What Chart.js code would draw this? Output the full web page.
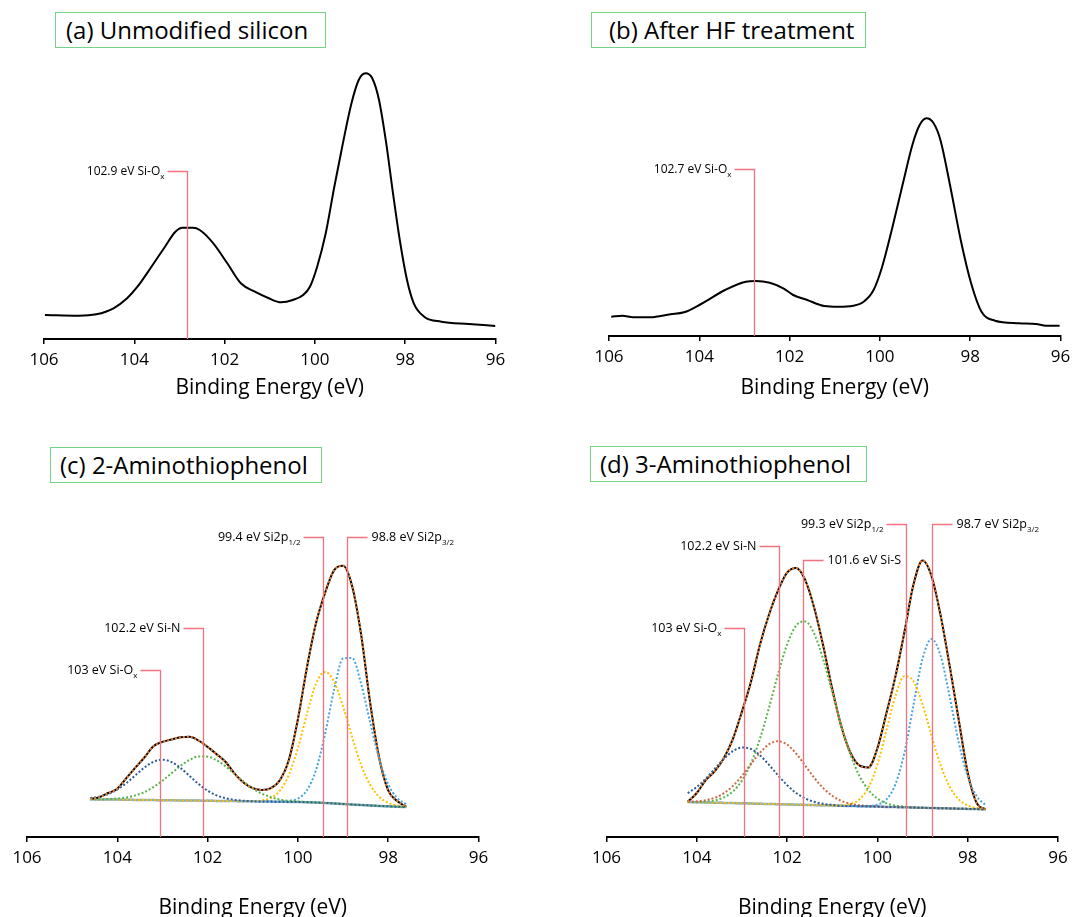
<!DOCTYPE html>
<html>
<head>
<meta charset="utf-8">
<script src="https://cdn.jsdelivr.net/npm/chart.js@4.4.1/dist/chart.umd.min.js"></script>
<style>
  body { margin: 0; width: 1072px; height: 917px; overflow: hidden; position: relative; background: #fff; font-family: "Open Sans", sans-serif; }
  canvas { position: absolute; }
  .tag { position: absolute; border: 1.5px solid #74d486; font-size: 24px; line-height: 34px; height: 34px; color: #000; white-space: nowrap; box-sizing: content-box; z-index: 2; }
</style>
</head>
<body>
<div class="tag" style="left:55px;top:12px;width:259px;padding-left:10px">(a) Unmodified silicon</div>
<div class="tag" style="left:591px;top:12px;width:256px;padding-left:17px">(b) After HF treatment</div>
<div class="tag" style="left:50px;top:447px;width:261px;padding-left:9px">(c) 2-Aminothiophenol</div>
<div class="tag" style="left:590px;top:446px;width:266px;padding-left:9px">(d) 3-Aminothiophenol</div>

<canvas id="chartA" width="536" height="355" style="left:0;top:55px"></canvas>
<canvas id="chartB" width="545" height="355" style="left:540px;top:55px"></canvas>
<canvas id="chartC" width="536" height="440" style="left:0;top:495px"></canvas>
<canvas id="chartD" width="545" height="440" style="left:540px;top:495px"></canvas>

<script>
// x ticks (binding energy, eV)
const tickMin = 96;
const tickMax = 106;
const tickStep = 2;
const axisTitle = "Binding Energy (eV)";

// (a) unmodified silicon - measured spectrum
const aEV = [105.98, 105.23, 104.84, 104.46, 104.16, 103.93, 103.62, 103.32, 103.09, 102.93, 102.7, 102.55, 102.25, 101.94, 101.64, 101.33, 101.02, 100.75, 100.49, 100.26, 100.11, 99.95, 99.76, 99.57, 99.38, 99.19, 99.03, 98.88, 98.73, 98.58, 98.42, 98.27, 98.12, 97.96, 97.81, 97.58, 97.2, 96.59, 96.0];
const aCounts = [24, 23.3, 24.7, 30.7, 40.7, 52.3, 72.3, 92.3, 107.3, 111.3, 111.3, 109, 95.7, 75.7, 55.7, 47.3, 40.7, 36.7, 39, 44, 52.3, 72.3, 105.7, 152.3, 195.7, 235.7, 259, 265.7, 260.7, 239, 195.7, 145.7, 99, 59, 35.7, 22.3, 17.3, 15, 13];

// (b) after HF treatment
const bEV = [105.95, 105.7, 105.47, 105.09, 104.64, 104.34, 103.96, 103.43, 102.97, 102.75, 102.44, 102.14, 101.92, 101.61, 101.23, 100.93, 100.59, 100.36, 100.14, 99.95, 99.72, 99.49, 99.27, 99.12, 98.97, 98.81, 98.66, 98.44, 98.21, 97.98, 97.75, 97.45, 96.92, 96.54, 96.32, 96.02];
const bCounts = [19.3, 20.3, 18.7, 18.7, 21.7, 23.7, 32, 46, 54.3, 55, 53.3, 47.7, 41, 36, 30, 29.3, 30.3, 34.3, 46, 69.3, 109.3, 152.7, 192.7, 211, 217.7, 212.7, 196, 149.3, 96, 52.7, 24.3, 15.3, 12.7, 12, 10.3, 10.3];

// (c) 2-aminothiophenol - measured envelope, fitted components, background
const cEV = [104.6, 104.4, 104.2, 104.0, 103.8, 103.6, 103.4, 103.2, 103.0, 102.8, 102.6, 102.4, 102.2, 102.0, 101.8, 101.6, 101.4, 101.2, 101.0, 100.8, 100.6, 100.4, 100.2, 100.0, 99.8, 99.6, 99.4, 99.2, 99.0, 98.8, 98.6, 98.4, 98.2, 98.0, 97.8, 97.6];
const cEnvelope = [38.0, 39.8, 44.0, 48.3, 58.8, 69.3, 79.5, 90.8, 95.1, 97.5, 99.7, 100.2, 96.5, 90.1, 82.8, 75.0, 63.3, 54.2, 48.9, 47.0, 48.8, 56.8, 77.2, 117.8, 169.5, 213.7, 243.9, 266.6, 271.2, 251.0, 202.5, 134.3, 79.2, 46.6, 35.9, 30.2];
const cSiOx = [38.9, 40.3, 43.0, 47.5, 53.9, 61.7, 69.4, 75.2, 77.3, 75.0, 69.0, 61.1, 53.0, 46.3, 41.6, 38.7, 37.1, 36.2, 35.7, 35.5, 35.4, 35.2, 35.1, 35.0, 34.8, 34.5, 34.1, 33.6, 33.0, 32.5, 32.0, 31.6, 31.1, 30.7, 30.3, 30.0];
const cSiN = [37.8, 37.8, 38.0, 38.5, 39.6, 41.6, 44.9, 49.8, 56.3, 63.7, 71.1, 77.1, 80.5, 80.3, 76.7, 70.5, 62.9, 55.3, 48.6, 43.4, 39.9, 37.5, 36.2, 35.5, 35.0, 34.5, 34.1, 33.6, 33.0, 32.5, 32.0, 31.6, 31.1, 30.7, 30.3, 30.0];
const cSi2p12 = [37.7, 37.6, 37.5, 37.4, 37.3, 37.1, 37.0, 36.9, 36.8, 36.7, 36.6, 36.5, 36.4, 36.2, 36.1, 36.0, 35.9, 35.8, 35.9, 36.5, 39.1, 46.3, 62.1, 88.8, 123.1, 153.2, 165.1, 155.3, 130.5, 99.9, 72.1, 52.2, 40.2, 34.2, 31.5, 30.3];
const cSi2p32 = [37.7, 37.6, 37.5, 37.4, 37.3, 37.1, 37.0, 36.9, 36.8, 36.7, 36.6, 36.5, 36.4, 36.2, 36.1, 36.0, 35.9, 35.8, 35.7, 35.5, 35.4, 35.3, 35.9, 38.4, 46.7, 66.9, 102.8, 146.9, 178.4, 179.0, 153.2, 114.7, 78.2, 52.8, 38.9, 32.8];
const cBackground = [37.7, 37.6, 37.5, 37.4, 37.3, 37.1, 37.0, 36.9, 36.8, 36.7, 36.6, 36.5, 36.4, 36.2, 36.1, 36.0, 35.9, 35.8, 35.7, 35.5, 35.4, 35.2, 35.1, 35.0, 34.8, 34.5, 34.1, 33.6, 33.0, 32.5, 32.0, 31.6, 31.1, 30.7, 30.3, 30.0];

// (d) 3-aminothiophenol
const dEV = [104.2, 104.0, 103.8, 103.6, 103.4, 103.2, 103.0, 102.8, 102.6, 102.4, 102.2, 102.0, 101.8, 101.6, 101.4, 101.2, 101.0, 100.8, 100.6, 100.4, 100.2, 100.0, 99.8, 99.6, 99.4, 99.2, 99.0, 98.8, 98.6, 98.4, 98.2, 98.0, 97.8, 97.6];
const dEnvelope = [35.2, 44.0, 57.0, 65.8, 79.0, 98.2, 125.4, 155.3, 192.6, 222.5, 246.7, 264.4, 269.1, 257.2, 229.3, 191.3, 148.0, 110.7, 84.5, 71.6, 69.6, 88.8, 123.9, 160.7, 205.3, 252.7, 276.6, 260.8, 221.6, 171.3, 117.5, 64.4, 33.9, 27.7];
const dSiOx = [43.8, 50.0, 58.4, 68.3, 78.2, 85.9, 89.5, 88.0, 81.6, 72.1, 61.6, 51.9, 44.0, 38.6, 35.2, 33.2, 32.1, 31.2, 31.0, 30.8, 30.6, 30.4, 30.1, 29.9, 29.7, 29.5, 29.2, 29.0, 28.8, 28.6, 28.3, 28.1, 27.9, 27.7];
const dSiN = [35.4, 35.7, 36.9, 39.2, 43.8, 51.1, 61.1, 72.9, 84.4, 92.8, 95.8, 92.4, 83.5, 71.5, 59.3, 48.9, 41.2, 36.1, 33.3, 31.7, 31.0, 30.4, 30.1, 29.9, 29.7, 29.5, 29.2, 29.0, 28.8, 28.6, 28.3, 28.1, 27.9, 27.7];
const dSiS = [35.1, 35.1, 35.5, 36.6, 39.6, 45.6, 56.4, 73.8, 98.5, 129.4, 162.9, 192.5, 211.5, 215.6, 203.2, 177.6, 144.8, 111.4, 82.9, 61.3, 47.1, 38.5, 33.7, 31.4, 30.3, 29.6, 29.2, 29.0, 28.8, 28.6, 28.3, 28.1, 27.9, 27.7];
const dSi2p12 = [35.0, 34.8, 34.6, 34.3, 34.1, 33.9, 33.7, 33.5, 33.2, 33.0, 32.8, 32.6, 32.3, 32.1, 31.9, 31.7, 31.5, 31.6, 32.9, 37.5, 49.3, 72.5, 106.5, 141.4, 160.8, 155.7, 132.5, 101.1, 71.7, 50.3, 37.7, 31.5, 29.0, 28.0];
const dSi2p32 = [35.0, 34.8, 34.6, 34.3, 34.1, 33.9, 33.7, 33.5, 33.2, 33.0, 32.8, 32.6, 32.3, 32.1, 31.9, 31.7, 31.5, 31.2, 31.0, 30.8, 31.0, 32.3, 37.5, 52.8, 84.6, 132.1, 178.3, 198.0, 181.2, 140.3, 94.9, 60.4, 40.7, 31.8];
const dBackground = [35.0, 34.8, 34.6, 34.3, 34.1, 33.9, 33.7, 33.5, 33.2, 33.0, 32.8, 32.6, 32.3, 32.1, 31.9, 31.7, 31.5, 31.2, 31.0, 30.8, 30.6, 30.4, 30.1, 29.9, 29.7, 29.5, 29.2, 29.0, 28.8, 28.6, 28.3, 28.1, 27.9, 27.7];

// peak markers: position (eV), top of marker (counts), label, subscript, side of label
const aMarkEV = [102.84];
const aMarkTop = [168];
const aMarkText = ["102.9 eV Si-O"];
const aMarkSub = ["x"];
const aMarkSide = ["left"];

const bMarkEV = [102.78];
const bMarkTop = [167];
const bMarkText = ["102.7 eV Si-O"];
const bMarkSub = ["x"];
const bMarkSide = ["left"];

const cMarkEV = [103.06, 102.1, 99.44, 98.91];
const cMarkTop = [167, 209, 300, 300];
const cMarkText = ["103 eV Si-O", "102.2 eV Si-N", "99.4 eV Si2p", "98.8 eV Si2p"];
const cMarkSub = ["x", "", "1/2", "3/2"];
const cMarkSide = ["left", "left", "left", "right"];

const dMarkEV = [102.95, 102.19, 101.64, 99.37, 98.8];
const dMarkTop = [209, 291, 277, 313, 313];
const dMarkText = ["103 eV Si-O", "102.2 eV Si-N", "101.6 eV Si-S", "99.3 eV Si2p", "98.7 eV Si2p"];
const dMarkSub = ["x", "", "", "1/2", "3/2"];
const dMarkSide = ["left", "left", "right", "left", "right"];

Chart.defaults.font.family = "'Open Sans', sans-serif";
Chart.defaults.color = "#000";

function pts(xs, ys) {
    return xs.map((x, i) => ({ x: x, y: ys[i] }));
}

function marks(ev, top, text, sub, side) {
    return ev.map((v, i) => ({ ev: v, top: top[i], text: text[i], sub: sub[i], side: side[i] }));
}

// red drop lines with labels
const peakMarks = {
    id: "peakMarks",
    afterDatasetsDraw(chart, args, opts) {
        const ctx = chart.ctx;
        const xs = chart.scales.x;
        const ys = chart.scales.y;
        const bottom = chart.chartArea.bottom;
        ctx.save();
        opts.items.forEach((m) => {
            const px = Math.round(xs.getPixelForValue(m.ev)) + 0.5;
            const py = Math.round(ys.getPixelForValue(m.top)) + 0.5;
            const arm = 20;
            const endX = m.side === "left" ? px - arm : px + arm;
            ctx.strokeStyle = "#f2737f";
            ctx.lineWidth = 1.3;
            ctx.beginPath();
            ctx.moveTo(endX, py);
            ctx.lineTo(px, py);
            ctx.lineTo(px, bottom);
            ctx.stroke();

            ctx.fillStyle = "#000";
            ctx.textBaseline = "middle";
            ctx.textAlign = "left";
            ctx.font = opts.size + "px 'Open Sans'";
            const mainW = ctx.measureText(m.text).width;
            ctx.font = "8px 'Open Sans'";
            const subW = m.sub ? ctx.measureText(m.sub).width : 0;
            const startX = m.side === "left" ? endX - 3 - subW - mainW : endX + 4;
            ctx.font = opts.size + "px 'Open Sans'";
            ctx.fillText(m.text, startX, py);
            if (m.sub) {
                ctx.font = "8px 'Open Sans'";
                ctx.fillText(m.sub, startX + mainW, py + 5);
            }
        });
        ctx.restore();
    },
};

function line(data, color, dotted, width) {
    return {
        data: data,
        borderColor: color,
        borderWidth: width || 2,
        borderDash: dotted ? [2, 2] : [],
        pointRadius: 0,
        fill: false,
        cubicInterpolationMode: "monotone",
    };
}

// geometry of one panel in page pixels
function makePanel(id, g, datasets, items, labelSize) {
    const yMax = g.axisY - g.top;
    const axisH = g.h - yMax;
    const titleLh = 21 * 1.2;
    new Chart(document.getElementById(id), {
        type: "line",
        data: { datasets: datasets },
        options: {
            responsive: false,
            animation: false,
            devicePixelRatio: 1,
            layout: { padding: { left: g.x106 - g.left, right: g.left + g.w - g.x96, top: 0, bottom: 0 } },
            plugins: {
                legend: { display: false },
                tooltip: { enabled: false },
                peakMarks: { items: items, size: labelSize },
            },
            scales: {
                x: {
                    type: "linear",
                    min: tickMin,
                    max: tickMax,
                    reverse: true,
                    ticks: { stepSize: tickStep, font: { size: 17 }, padding: 6, maxRotation: 0 },
                    grid: { drawOnChartArea: false, drawTicks: true, tickLength: 5, color: "#000", lineWidth: 1.5 },
                    border: { display: true, color: "#000", width: 2 },
                    title: {
                        display: true,
                        text: axisTitle,
                        font: { size: 21 },
                        padding: { top: 0, bottom: g.h - (g.titleY - g.top) - titleLh / 2 },
                    },
                    afterFit: (s) => { s.height = axisH; },
                },
                y: { display: false, min: 0, max: yMax },
            },
        },
        plugins: [peakMarks],
    });
}

makePanel("chartA", { left: 0, top: 55, w: 536, h: 355, x106: 44, x96: 495.5, axisY: 339, titleY: 388 },
    [line(pts(aEV, aCounts), "#000", false, 2)],
    marks(aMarkEV, aMarkTop, aMarkText, aMarkSub, aMarkSide), 12);

makePanel("chartB", { left: 540, top: 55, w: 545, h: 355, x106: 609, x96: 1060.5, axisY: 336, titleY: 388 },
    [line(pts(bEV, bCounts), "#000", false, 2)],
    marks(bMarkEV, bMarkTop, bMarkText, bMarkSub, bMarkSide), 12);

// first dataset is drawn on top
makePanel("chartC", { left: 0, top: 495, w: 536, h: 440, x106: 27, x96: 478.5, axisY: 837, titleY: 908 },
    [
        line(pts(cEV, cEnvelope), "#ed7d31", true),
        line(pts(cEV, cSiOx), "#2e5c97", true),
        line(pts(cEV, cSiN), "#5ab54b", true),
        line(pts(cEV, cSi2p12), "#ffc000", true),
        line(pts(cEV, cSi2p32), "#45a4de", true),
        line(pts(cEV, cEnvelope), "#000", false, 2),
        line(pts(cEV, cBackground), "#8aaecb", false, 2.5),
    ],
    marks(cMarkEV, cMarkTop, cMarkText, cMarkSub, cMarkSide), 12.5);

makePanel("chartD", { left: 540, top: 495, w: 545, h: 440, x106: 606.5, x96: 1058, axisY: 837, titleY: 908 },
    [
        line(pts(dEV, dEnvelope), "#ed7d31", true),
        line(pts(dEV, dSiOx), "#2e5c97", true),
        line(pts(dEV, dSiN), "#cd6a45", true),
        line(pts(dEV, dSiS), "#5ab54b", true),
        line(pts(dEV, dSi2p12), "#ffc000", true),
        line(pts(dEV, dSi2p32), "#45a4de", true),
        line(pts(dEV, dEnvelope), "#000", false, 2),
        line(pts(dEV, dBackground), "#8aaecb", false, 2.5),
    ],
    marks(dMarkEV, dMarkTop, dMarkText, dMarkSub, dMarkSide), 12.5);
</script>
</body>
</html>
